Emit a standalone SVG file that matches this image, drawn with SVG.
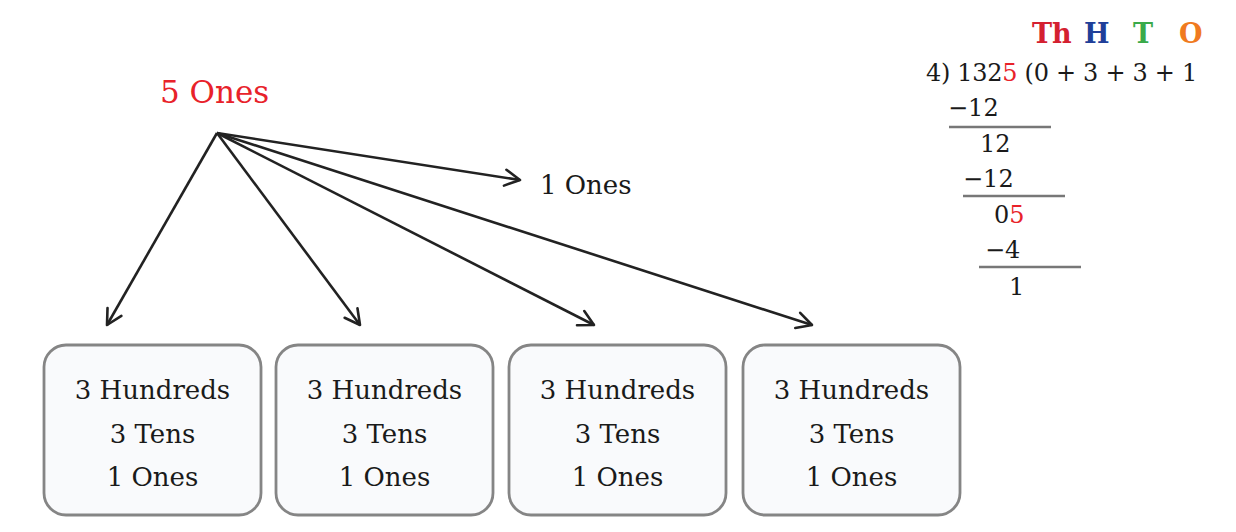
<svg xmlns="http://www.w3.org/2000/svg" width="1236" height="532" viewBox="0 0 1236 532">
<defs>
<marker id="arr" viewBox="0 0 22 22" refX="18" refY="11" markerWidth="22" markerHeight="22" markerUnits="userSpaceOnUse" orient="auto">
<path d="M3,3 L18,11 L3,19" fill="none" stroke="#222" stroke-width="2.6" stroke-linecap="round" stroke-linejoin="round"/>
</marker>
<style>
.t{font-family:"DejaVu Serif","Liberation Serif",serif;fill:#1a1a1a}
.bx{fill:#f9fafc;stroke:#858585;stroke-width:2.8}
.ln{stroke:#222;stroke-width:2.6;fill:none;marker-end:url(#arr)}
.ul{stroke:#777;stroke-width:2.5}
.red{fill:#e8222a}
.b{font-weight:bold}
</style>
</defs>
<rect width="1236" height="532" fill="#ffffff"/>
<g id="root">
<text class="t red" x="160" y="103" font-size="31">5 Ones</text>
</g>
<g id="connectors">
<line class="ln" x1="217" y1="133" x2="107" y2="325"/>
<line class="ln" x1="217" y1="133" x2="360" y2="325"/>
<line class="ln" x1="217" y1="133" x2="594" y2="325"/>
<line class="ln" x1="217" y1="133" x2="812" y2="325"/>
<line class="ln" x1="217" y1="133" x2="520" y2="180"/>
</g>
<g id="remainder">
<text class="t" x="540" y="194" font-size="26">1 Ones</text>
</g>
<g id="box1">
<rect class="bx" x="44" y="345" width="217" height="170" rx="22"/>
<text class="t" font-size="26" text-anchor="middle"><tspan x="152.5" y="399">3 Hundreds</tspan><tspan x="152.5" y="443">3 Tens</tspan><tspan x="152.5" y="486">1 Ones</tspan></text>
</g>
<g id="box2">
<rect class="bx" x="276" y="345" width="217" height="170" rx="22"/>
<text class="t" font-size="26" text-anchor="middle"><tspan x="384.5" y="399">3 Hundreds</tspan><tspan x="384.5" y="443">3 Tens</tspan><tspan x="384.5" y="486">1 Ones</tspan></text>
</g>
<g id="box3">
<rect class="bx" x="509" y="345" width="217" height="170" rx="22"/>
<text class="t" font-size="26" text-anchor="middle"><tspan x="617.5" y="399">3 Hundreds</tspan><tspan x="617.5" y="443">3 Tens</tspan><tspan x="617.5" y="486">1 Ones</tspan></text>
</g>
<g id="box4">
<rect class="bx" x="743" y="345" width="217" height="170" rx="22"/>
<text class="t" font-size="26" text-anchor="middle"><tspan x="851.5" y="399">3 Hundreds</tspan><tspan x="851.5" y="443">3 Tens</tspan><tspan x="851.5" y="486">1 Ones</tspan></text>
</g>
<g id="division">
<text class="t b" x="1032" y="43" font-size="27" style="fill:#d42030">Th</text>
<text class="t b" x="1084" y="43" font-size="27" style="fill:#1f3f99">H</text>
<text class="t b" x="1133" y="43" font-size="27" style="fill:#3aaa4a">T</text>
<text class="t b" x="1179" y="43" font-size="27" style="fill:#f07a20">O</text>
<text class="t" x="926" y="81" font-size="24" letter-spacing="-0.3">4) 132<tspan class="red">5</tspan> (0 + 3 + 3 + 1</text>
<text class="t" x="948" y="116" font-size="24">−12</text>
<line class="ul" x1="949" y1="127" x2="1051" y2="127"/>
<text class="t" x="980" y="152" font-size="24">12</text>
<text class="t" x="963" y="187" font-size="24">−12</text>
<line class="ul" x1="963" y1="196" x2="1065" y2="196"/>
<text class="t" x="994" y="223" font-size="24">0<tspan class="red">5</tspan></text>
<text class="t" x="985" y="258" font-size="24">−4</text>
<line class="ul" x1="979" y1="267" x2="1081" y2="267"/>
<text class="t" x="1009" y="295" font-size="24">1</text>
</g>
</svg>
